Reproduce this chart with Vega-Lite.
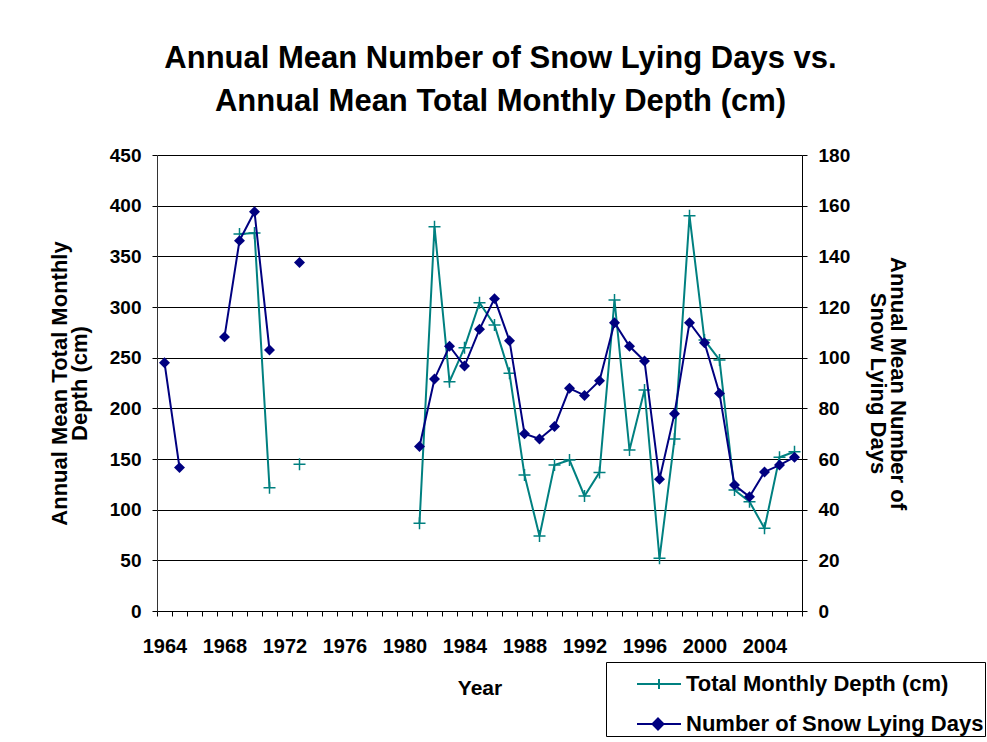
{
  "$schema": "https://vega.github.io/schema/vega-lite/v6.json",
  "width": 645,
  "height": 456,
  "autosize": {"type": "none"},
  "padding": {"left": 157, "top": 155, "right": 185, "bottom": 131},
  "background": "white",
  "config": {"view": {"stroke": null}, "font": "Liberation Sans"},
  "title": {
    "text": ["Annual Mean Number of Snow Lying Days vs.", "Annual Mean Total Monthly Depth (cm)"],
    "font": "Liberation Sans",
    "fontSize": 31,
    "fontWeight": "bold",
    "lineHeight": 43,
    "anchor": "middle",
    "frame": "group",
    "dx": 21,
    "offset": 28,
    "color": "black"
  },
  "data": {
    "values": [
      {"year": 1964, "depth": null, "days": 98.0},
      {"year": 1965, "depth": null, "days": 56.6},
      {"year": 1966, "depth": null, "days": null},
      {"year": 1967, "depth": null, "days": null},
      {"year": 1968, "depth": null, "days": 108.2},
      {"year": 1969, "depth": 372, "days": 146.2},
      {"year": 1970, "depth": 373, "days": 157.6},
      {"year": 1971, "depth": 121.7, "days": 103},
      {"year": 1972, "depth": null, "days": null},
      {"year": 1973, "depth": 144.8, "days": 137.6},
      {"year": 1974, "depth": null, "days": null},
      {"year": 1975, "depth": null, "days": null},
      {"year": 1976, "depth": null, "days": null},
      {"year": 1977, "depth": null, "days": null},
      {"year": 1978, "depth": null, "days": null},
      {"year": 1979, "depth": null, "days": null},
      {"year": 1980, "depth": null, "days": null},
      {"year": 1981, "depth": 86.5, "days": 64.9},
      {"year": 1982, "depth": 379.3, "days": 91.6},
      {"year": 1983, "depth": 226.3, "days": 104.5},
      {"year": 1984, "depth": 259.9, "days": 96.7},
      {"year": 1985, "depth": 304.3, "days": 111.2},
      {"year": 1986, "depth": 282.2, "days": 123.3},
      {"year": 1987, "depth": 234.5, "days": 106.7},
      {"year": 1988, "depth": 134.2, "days": 70},
      {"year": 1989, "depth": 74, "days": 67.9},
      {"year": 1990, "depth": 144.1, "days": 72.8},
      {"year": 1991, "depth": 149, "days": 87.9},
      {"year": 1992, "depth": 113.5, "days": 85.1},
      {"year": 1993, "depth": 136.8, "days": 90.9},
      {"year": 1994, "depth": 306.9, "days": 113.8},
      {"year": 1995, "depth": 158.9, "days": 104.5},
      {"year": 1996, "depth": 218.1, "days": 98.7},
      {"year": 1997, "depth": 52, "days": 52},
      {"year": 1998, "depth": 169.7, "days": 77.9},
      {"year": 1999, "depth": 390.1, "days": 113.8},
      {"year": 2000, "depth": 267.4, "days": 105.9},
      {"year": 2001, "depth": 247.7, "days": 85.9},
      {"year": 2002, "depth": 119.4, "days": 49.7},
      {"year": 2003, "depth": 107.9, "days": 45.1},
      {"year": 2004, "depth": 81.6, "days": 54.9},
      {"year": 2005, "depth": 151.7, "days": 57.6},
      {"year": 2006, "depth": 157.2, "days": 60.7}
    ]
  },
  "encoding": {
    "x": {
      "field": "year",
      "type": "ordinal",
      "bandPosition": 0.5,
      "scale": {
        "type": "band",
        "domain": [1964,1965,1966,1967,1968,1969,1970,1971,1972,1973,1974,1975,1976,1977,1978,1979,1980,1981,1982,1983,1984,1985,1986,1987,1988,1989,1990,1991,1992,1993,1994,1995,1996,1997,1998,1999,2000,2001,2002,2003,2004,2005,2006],
        "paddingInner": 0,
        "paddingOuter": 0
      },
      "axis": {
        "title": "Year",
        "titleFont": "Liberation Sans",
        "titleFontSize": 21,
        "titleFontWeight": "bold",
        "titleColor": "black",
        "titlePadding": 21,
        "labelExpr": "datum.value % 4 == 0 ? datum.label : ''",
        "labelAngle": 0,
        "labelOverlap": false,
        "labelFont": "Liberation Sans",
        "labelFontSize": 20,
        "labelFontWeight": "bold",
        "labelColor": "black",
        "labelPadding": 20,
        "tickBand": "extent",
        "tickSize": 5,
        "tickColor": "black",
        "domainColor": "black",
        "grid": false
      }
    }
  },
  "layer": [
    {
      "encoding": {
        "y": {
          "field": "depth",
          "type": "quantitative",
          "scale": {"domain": [0, 450], "nice": false, "zero": true},
          "axis": {
            "title": ["Annual Mean Total Monthly", "Depth (cm)"],
            "titleFont": "Liberation Sans",
            "titleFontSize": 22,
            "titleFontWeight": "bold",
            "titleColor": "black",
            "titleLineHeight": 20,
            "titlePadding": 18,
            "values": [0, 50, 100, 150, 200, 250, 300, 350, 400, 450],
            "labelFont": "Liberation Sans",
            "labelFontSize": 19,
            "labelFontWeight": "bold",
            "labelColor": "black",
            "labelPadding": 11,
            "tickSize": 5,
            "tickColor": "black",
            "domainColor": "#333333",
            "grid": true,
            "gridColor": "black",
            "gridWidth": 1,
            "gridOpacity": 1
          }
        },
        "color": {
          "datum": "Total Monthly Depth (cm)",
          "type": "nominal",
          "scale": {"domain": ["Total Monthly Depth (cm)", "Number of Snow Lying Days"], "range": ["#008080", "#000080"]},
          "legend": {
            "title": null,
            "orient": "none",
            "legendX": 449,
            "legendY": 507,
            "direction": "vertical",
            "strokeColor": "black",
            "fillColor": "white",
            "padding": 1,
            "rowPadding": 8,
            "labelFont": "Liberation Sans",
            "labelFontSize": 22,
            "labelFontWeight": "bold",
            "labelColor": "black",
            "labelOffset": 37,
            "labelLimit": 400,
            "symbolSize": 1600,
            "encode": {
              "symbols": {
                "update": {
                  "shape": {"signal": "datum.value === 'Number of Snow Lying Days' ? 'M0.45,0L2.65,0M1.5,-0.275L1.775,0L1.5,0.275L1.225,0Z' : 'M0.45,0L2.65,0M1.55,-0.25L1.55,0.25'"},
                  "fill": {"signal": "datum.value === 'Number of Snow Lying Days' ? '#000080' : 'transparent'"},
                  "stroke": {"signal": "datum.value === 'Number of Snow Lying Days' ? '#000080' : '#008080'"},
                  "strokeWidth": {"value": 2},
                  "size": {"value": 1600},
                  "opacity": {"value": 1}
                }
              }
            }
          }
        }
      },
      "layer": [
        {"mark": {"type": "line", "strokeWidth": 2, "invalid": "break-paths-show-domains"}},
        {"mark": {"type": "point", "shape": "M-1,0L1,0M0,-1L0,1", "size": 144, "filled": false, "strokeWidth": 1.5, "opacity": 1}}
      ]
    },
    {
      "encoding": {
        "y": {
          "field": "days",
          "type": "quantitative",
          "scale": {"domain": [0, 180], "nice": false, "zero": true},
          "axis": {
            "orient": "right",
            "title": ["Annual Mean Number of", "Snow Lying Days"],
            "titleFont": "Liberation Sans",
            "titleFontSize": 22,
            "titleFontWeight": "bold",
            "titleColor": "black",
            "titleLineHeight": 20,
            "titlePadding": 16,
            "values": [0, 20, 40, 60, 80, 100, 120, 140, 160, 180],
            "labelFont": "Liberation Sans",
            "labelFontSize": 19,
            "labelFontWeight": "bold",
            "labelColor": "black",
            "labelPadding": 11,
            "tickSize": 5,
            "tickColor": "black",
            "domainColor": "black",
            "grid": false
          }
        },
        "color": {
          "datum": "Number of Snow Lying Days",
          "type": "nominal"
        }
      },
      "layer": [
        {"mark": {"type": "line", "strokeWidth": 2, "invalid": "break-paths-show-domains"}},
        {"mark": {"type": "point", "shape": "diamond", "size": 120, "filled": true, "opacity": 1}}
      ]
    }
  ],
  "resolve": {"scale": {"y": "independent"}}
}
